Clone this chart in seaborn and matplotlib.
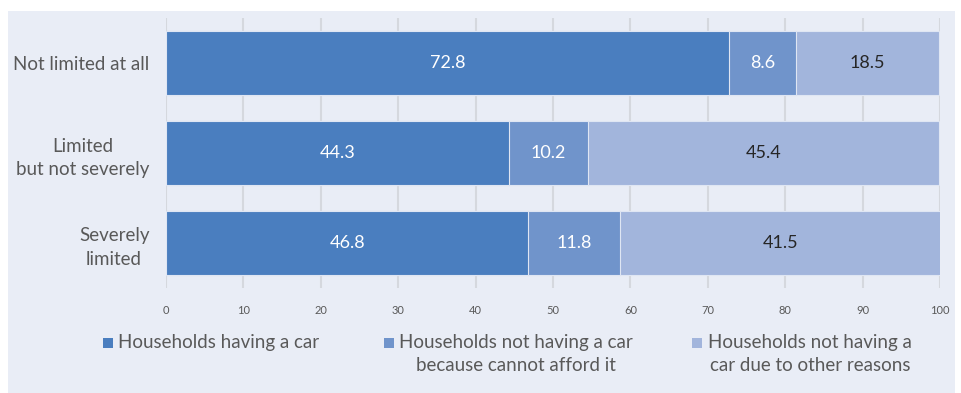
import matplotlib.pyplot as plt
from matplotlib.patches import Rectangle
import pandas as pd
import seaborn as sn

categories = ["Not limited at all", "Limited\nbut not severely", "Severely\nlimited"]
having_car = [72.8, 44.3, 46.8]
cannot_afford = [8.6, 10.2, 11.8]
other_reasons = [18.5, 45.4, 41.5]
series_names = ["Households having a car",
                "Households not having a car\nbecause cannot afford it",
                "Households not having a\ncar due to other reasons"]
colors = ["#4a7ebf", "#7094cb", "#a2b5dc"]
text_colors = ["white", "white", "#262626"]
xticks = list(range(0, 101, 10))

sn.set_style("white")
plt.rcParams["font.family"] = ["Lato", "DejaVu Sans"]

W, H = 961, 393
def fx(px): return px / W
def fy(py): return 1 - py / H

fig = plt.figure(figsize=(W / 100, H / 100), dpi=100)
fig.patch.set_facecolor("white")
fig.patches.append(Rectangle((fx(8), 0), fx(955) - fx(8), fy(11), transform=fig.transFigure,
                             facecolor="#e9edf6", edgecolor="none", zorder=-10))
ax = fig.add_axes([fx(166), fy(288), fx(940) - fx(166), fy(18) - fy(288)])
ax.set_facecolor("none")

series = [having_car, cannot_afford, other_reasons]
df = pd.DataFrame({"category": categories,
                   "s1": having_car, "s2": cannot_afford, "s3": other_reasons})
df["c1"] = df["s1"]
df["c2"] = df["s1"] + df["s2"]
df["c3"] = df["c2"] + df["s3"]

# draw cumulative bars from longest to shortest so they stack
for col, c in zip(["c3", "c2", "c1"], colors[::-1]):
    sn.barplot(data=df, x=col, y="category", color=c, saturation=1, width=0.71,
               edgecolor="#dfe6f3", linewidth=0.8, ax=ax, zorder=2)

# value labels centred in each segment
for i in range(len(categories)):
    left = 0
    for s, tc in zip(series, text_colors):
        v = s[i]
        ax.text(left + v / 2, i, f"{v:.1f}", ha="center", va="center", color=tc,
                fontsize=13, zorder=5)
        left += v

ax.set_xlim(0, 100)
ax.set_ylim(2.5, -0.5)
ax.set_xticks(xticks)
ax.set_xlabel("")
ax.set_ylabel("")
for sp in ax.spines.values():
    sp.set_visible(False)
ax.grid(axis="x", color="#d5d8de", linewidth=1.5, zorder=0)
ax.set_axisbelow(True)
ax.tick_params(axis="x", length=0, pad=12, labelsize=8, labelcolor="#595959")
ax.tick_params(axis="y", length=0, pad=12, labelsize=13.5, labelcolor="#595959")
for lab in ax.get_yticklabels():
    lab.set_multialignment("center")
    lab.set_linespacing(1.45)

# legend
marker_x = [103, 384, 692]
text_x = [118, 399, 708]
for mx, tx, name, c in zip(marker_x, text_x, series_names, colors):
    fig.patches.append(Rectangle((fx(mx), fy(348)), fx(10), 10 / H, transform=fig.transFigure,
                                 facecolor=c, edgecolor="none"))
    fig.text(fx(tx), fy(334), name, ha="left", va="top", multialignment="center",
             fontsize=13.5, color="#595959", linespacing=1.45)

plt.savefig("out.png", dpi=100)
